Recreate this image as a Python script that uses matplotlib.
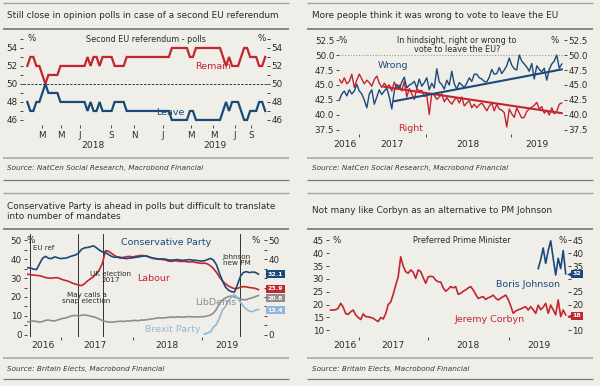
import matplotlib
matplotlib.use("Agg")
import matplotlib.pyplot as plt
from matplotlib.lines import Line2D
from matplotlib.transforms import blended_transform_factory as blend

# ---------------- DATA ----------------
# Panel 1: second EU referendum polls (observation index axis)
p1_remain = [52, 53, 53, 52, 52, 51, 50, 51, 51, 51, 51, 52,
             52, 52, 52, 52, 52, 52, 52, 52,
             53, 52, 53, 53, 52, 53, 53, 53, 53, 52, 52, 52, 52, 53,
             53, 53, 53, 53, 53, 53, 53, 53, 53, 53, 53, 53, 53, 53,
             54, 54, 54, 54, 54, 54,
             53, 53,
             54, 54, 54, 54, 54, 54, 54, 54, 54,
             53, 52, 53, 52, 52, 52, 53, 54, 54, 53, 53, 53, 52, 52, 53]
p1_leave = [48, 47, 47, 48, 48, 49, 50, 49, 49, 49, 49, 48,
            48, 48, 48, 48, 48, 48, 48, 48,
            47, 48, 47, 47, 48, 47, 47, 47, 47, 48, 48, 48, 48, 47,
            47, 47, 47, 47, 47, 47, 47, 47, 47, 47, 47, 47, 47, 47,
            46, 46, 46, 46, 46, 46,
            47, 47,
            46, 46, 46, 46, 46, 46, 46, 46, 46,
            47, 48, 47, 48, 48, 48, 47, 46, 46, 47, 47, 47, 48, 48, 47]
p1_month_pos = [4.9, 11.2, 17.5, 27.8, 35.5, 44.9, 54.2, 61.8, 69.0, 74.2]
p1_month_lbl = ['M', 'M', 'J', 'S', 'N', 'J', 'M', 'M', 'J', 'S']
p1_year_pos = [21.8, 62.2]
p1_year_lbl = ['2018', '2019']

# Panel 2: right or wrong to vote to leave
p2_wrong = [42.5, 43.5, 44.0, 43.2, 44.2, 43.5, 44.0, 45.1, 44.0, 43.5,
            42.5, 41.2, 43.5, 44.2, 41.8, 43.0, 44.2, 43.4, 44.0, 44.5,
            43.0, 41.0, 44.0, 45.1, 44.3, 45.5, 46.3, 44.5, 45.0, 45.2,
            45.6, 44.5, 46.0, 44.8, 45.4, 46.2, 44.2, 45.3, 44.5, 47.7,
            45.5, 45.1, 44.3, 45.8, 45.0, 47.3, 45.2, 44.3, 45.4, 45.0,
            44.6, 45.3, 46.2, 45.6, 46.8, 46.8, 46.2, 46.0, 45.6, 45.5,
            46.3, 47.6, 46.8, 46.9, 47.9, 46.9, 47.5, 48.2, 49.5, 48.3,
            47.7, 47.5, 50.0, 49.0, 48.5, 48.0, 47.3, 48.6, 46.0, 48.2,
            47.6, 47.2, 47.8, 45.8, 47.6, 48.5, 49.0, 50.0, 47.8, 48.5]
p2_right = [45.9, 45.3, 46.2, 45.2, 45.6, 46.8, 44.6, 45.8, 46.8, 46.0,
            45.2, 45.8, 45.4, 44.8, 45.9, 46.5, 45.3, 44.6, 45.3, 44.7,
            45.0, 44.0, 45.5, 44.3, 45.0, 44.0, 45.6, 43.0, 44.4, 43.5,
            42.6, 44.4, 44.0, 44.1, 43.1, 43.3, 40.1, 43.6, 43.3, 42.6,
            43.0, 43.5, 42.2, 42.9, 42.3, 41.8, 42.5, 42.9, 42.0, 43.0,
            41.5, 42.0, 42.4, 41.2, 41.8, 41.2, 41.7, 42.0, 41.4, 40.7,
            41.5, 42.0, 40.7, 41.8, 41.0, 40.8, 40.4, 38.0, 41.0, 40.2,
            39.6, 41.2, 40.3, 39.5, 39.6, 40.6, 41.0, 41.3, 41.6, 42.1,
            41.0, 41.4, 40.3, 40.8, 40.0, 41.2, 40.2, 40.6, 41.8, 42.0]
p2_wrong_trend_x = [22, 89]
p2_wrong_trend = [42.3, 47.6]
p2_right_trend_x = [18, 89]
p2_right_trend = [44.7, 40.3]
p2_yearsep_pos = [7.9, 34.7, 68.7]
p2_year_pos = [2.3, 21.1, 51.5, 79.1]
p2_year_lbl = ['2016', '2017', '2018', '2019']

# Panel 3: party polls
p3_con = [35.5, 35.3, 34.8, 34.5, 37.5, 40.5, 41.5, 40.5, 40.3, 41.2,
          40.8, 40.3, 40.5, 40.6, 41.3, 41.8, 42.2, 43.2, 45.2, 46.0,
          46.2, 46.6, 47.1, 46.0, 44.8, 43.8, 43.5, 42.5, 41.5, 41.0,
          41.2, 41.0, 40.5, 40.3, 40.6, 40.7, 41.0, 41.2, 41.5, 41.8,
          41.5, 40.8, 40.4, 40.3, 40.0, 40.2, 40.0, 39.6, 39.5, 39.6,
          39.8, 39.5, 39.4, 39.6, 39.8, 39.5, 39.4, 39.2, 39.0, 39.2,
          39.8, 40.4, 39.5, 37.0, 32.5, 28.5, 25.2, 23.6, 22.8, 22.6,
          26.5, 31.0, 33.0, 33.4, 32.9, 33.2, 33.0, 32.1]
p3_lab = [32.0, 31.8, 31.6, 31.4, 31.3, 30.8, 30.3, 30.0, 29.9, 30.2,
          30.2, 29.6, 29.0, 28.6, 28.1, 27.3, 26.8, 26.3, 26.0, 27.0,
          28.5, 29.6, 30.7, 32.5, 34.5, 38.0, 44.5, 44.2, 43.1, 42.0,
          41.0, 40.5, 41.0, 41.3, 41.5, 41.2, 41.5, 41.8, 42.0, 41.8,
          41.5, 41.0, 40.5, 40.2, 40.0, 39.8, 39.6, 39.0, 38.8, 39.2,
          39.0, 38.8, 38.9, 38.7, 38.5, 38.6, 38.3, 38.0, 37.8, 37.9,
          37.5, 36.5, 35.0, 33.0, 30.5, 28.5, 27.0, 25.8, 25.0, 24.4,
          24.5, 25.2, 25.5, 25.3, 25.0, 24.8, 24.5, 23.9]
p3_ld = [6.8, 7.0, 7.3, 7.0, 6.7, 7.0, 7.6, 7.8, 7.4, 7.3,
         7.8, 8.3, 8.7, 9.0, 9.6, 10.1, 10.2, 10.0, 10.3, 10.5,
         10.2, 9.8, 9.5, 9.0, 8.2, 7.5, 7.0, 6.8, 6.6, 6.8,
         7.0, 7.2, 7.0, 7.3, 7.2, 7.5, 7.6, 7.4, 7.8, 7.8,
         8.0, 8.3, 8.5, 8.8, 9.0, 8.8, 9.0, 9.2, 9.4, 9.2,
         9.5, 9.4, 9.3, 9.5, 9.6, 9.4, 9.5, 9.4, 9.5, 9.6,
         10.0, 10.4, 11.5, 13.5, 16.5, 18.5, 19.5, 20.2, 20.5, 20.0,
         19.5, 19.0, 18.5, 18.6, 19.2, 19.6, 20.2, 20.8]
p3_brexit_start = 59
p3_brexit = [0.3, 1.0, 1.5, 4.0, 5.5, 9.0, 13.0, 15.0, 18.0, 20.0,
             21.3, 19.5, 17.2, 15.0, 13.5, 12.5, 12.2, 13.0, 13.4]
p3_events_pos = [0.83, 16.9, 25.3, 70.8]
p3_yearsep_pos = [11.2, 35.3, 58.1]
p3_year_pos = [5.1, 22.5, 46.4, 66.4]
p3_year_lbl = ['2016', '2017', '2018', '2019']
p3_last_lbl = ['32.1', '23.9', '20.8', '13.4']

# Panel 4: preferred prime minister
p4_corbyn = [17.9, 17.9, 18.0, 18.6, 20.5, 19.0, 16.5, 16.2, 17.2, 17.9,
             16.0, 15.0, 14.2, 16.4, 15.3, 15.3, 15.0, 14.7, 14.0, 13.4,
             15.0, 14.4, 16.5, 20.0, 21.0, 24.0, 27.5, 30.8, 38.6, 35.0,
             32.8, 32.2, 33.5, 32.6, 30.2, 33.5, 32.8, 30.5, 28.3, 30.8,
             31.0, 30.8, 29.5, 28.9, 28.8, 26.5, 25.2, 26.0, 27.0, 26.5,
             27.0, 24.0, 24.4, 25.2, 25.7, 26.5, 27.0, 25.7, 24.0, 22.4,
             22.8, 23.1, 22.0, 22.7, 23.0, 23.7, 22.5, 21.8, 22.5, 23.1,
             23.7, 22.0, 19.5, 16.6, 17.5, 18.0, 18.3, 18.8, 19.2, 17.9,
             19.2, 18.0, 16.6, 19.8, 18.0, 19.0, 20.5, 16.6, 19.8, 18.0,
             16.0, 21.8, 15.3, 17.9, 16.0]
p4_johnson_start = 83
p4_johnson = [34.0, 37.5, 42.0, 36.0, 41.0, 44.8, 38.0, 31.5, 38.0, 34.0, 41.0, 32.0]
p4_yearsep_pos = [11.4, 38.8, 71.3]
p4_year_pos = [5.7, 25.0, 55.0, 83.4]
p4_year_lbl = ['2016', '2017', '2018', '2019']
p4_last_lbl = ['32', '18']

# ---------------- STYLE ----------------
W, H = 600, 386
BG = '#efeee9'
RED = '#c3262f'
BLUE = '#1b4a7a'
GRAY = '#8e8e8e'
LBLUE = '#93b7d8'
TXT = '#2a2a2a'
plt.rcParams['font.family'] = ['DejaVu Sans']

fig = plt.figure(figsize=(6, 3.86), dpi=100, facecolor=BG)


def FX(px):
    return px / W


def FY(py):
    return 1 - py / H


def hline(x0, x1, y, color, lw):
    fig.add_artist(Line2D([FX(x0), FX(x1)], [FY(y), FY(y)], transform=fig.transFigure,
                          color=color, lw=lw, solid_capstyle='butt'))


def ftext(x, y, s, **kw):
    kw.setdefault('color', TXT)
    kw.setdefault('va', 'center')
    fig.text(FX(x), FY(y), s, **kw)


def make_axes(x0, x1, y0, y1, xlim, ylim):
    ax = fig.add_axes([FX(x0), FY(y1), (x1 - x0) / W, (y1 - y0) / H])
    ax.set_facecolor('none')
    for s in ax.spines.values():
        s.set_visible(False)
    ax.set_xlim(*xlim)
    ax.set_ylim(*ylim)
    return ax


def style_y(ax, major, fmt, minor=None, hide_right=()):
    ax.set_yticks(major)
    ax.set_yticklabels([fmt.format(v) for v in major])
    if minor is not None:
        ax.set_yticks(minor, minor=True)
    ax.tick_params(axis='y', which='both', left=True, right=True, labelleft=True,
                   labelright=True, direction='out', length=2.2, width=0.6,
                   color=TXT, labelsize=6.3, labelcolor=TXT, pad=1.2)
    # right-hand labels hidden behind the end-value boxes
    for v, t in zip(major, ax.yaxis.get_major_ticks()):
        if v in hide_right:
            t.label2.set_visible(False)


def style_x(ax, pos, labels=None):
    ax.set_xticks(pos)
    if labels is None:
        ax.set_xticklabels([''] * len(pos))
    else:
        ax.set_xticklabels(labels)
    ax.tick_params(axis='x', which='both', bottom=True, top=False, direction='out',
                   length=2.2, width=0.6, color=TXT, labelsize=6.3, labelcolor=TXT, pad=1.8)


def year_labels(ax, pos, lbl, py):
    tr = blend(ax.transData, fig.transFigure)
    for p, l in zip(pos, lbl):
        ax.text(p, FY(py), l, transform=tr, ha='center', va='center', fontsize=6.6,
                color=TXT, clip_on=False)


def value_box(ax, y, s, color, px):
    tr = blend(fig.transFigure, ax.transData)
    ax.plot([FX(px - 8.5)], [y], marker='<', ms=3.4, color=color, transform=tr,
            clip_on=False, mec='none', zorder=9)
    ax.text(FX(px), y, s, transform=tr, ha='center', va='center', fontsize=4.5,
            color='white', fontweight='bold', clip_on=False, zorder=10,
            bbox=dict(boxstyle='square,pad=0.22', fc=color, ec='none'))


# ---------------- frames, titles, sources ----------------
TS = 6.4
for (x0, x1) in [(3, 289), (307, 593)]:
    hline(x0, x1, 3, '#a3a3a3', 1.0)
    hline(x0, x1, 28.5, '#6b6b6b', 1.1)
    hline(x0, x1, 157.5, '#a3a3a3', 1.1)
    hline(x0, x1, 180, '#7a7a7a', 0.9)
    hline(x0, x1, 192.5, '#a3a3a3', 1.0)
    hline(x0, x1, 228.5, '#6b6b6b', 1.1)
    hline(x0, x1, 358, '#a3a3a3', 1.1)
    hline(x0, x1, 379, '#7a7a7a', 0.9)

ftext(7, 16, 'Still close in opinion polls in case of a second EU referendum', fontsize=TS)
ftext(311.5, 16, 'More people think it was wrong to vote to leave the EU', fontsize=TS)
ftext(7, 211.5, 'Conservative Party is ahead in polls but difficult to translate\ninto number of mandates',
      fontsize=TS, linespacing=1.25)
ftext(311.5, 210, 'Not many like Corbyn as an alternative to PM Johnson', fontsize=TS)
SRC1 = 'Source: NatCen Social Research, Macrobond Financial'
SRC2 = 'Source: Britain Elects, Macrobond Financial'
ftext(7, 168, SRC1, fontsize=5.2, style='italic', color='#3a3a3a')
ftext(311.5, 168, SRC1, fontsize=5.2, style='italic', color='#3a3a3a')
ftext(7, 368.5, SRC2, fontsize=5.2, style='italic', color='#3a3a3a')
ftext(311.5, 368.5, SRC2, fontsize=5.2, style='italic', color='#3a3a3a')

# ---------------- Panel 1 ----------------
ax1 = make_axes(22.5, 267, 36, 125, (-1.6, 79.6), (45.44, 55.33))
x1 = list(range(len(p1_remain)))
ax1.axhline(50, color='#2b3a4f', lw=0.7, dashes=(2.5, 1.5))
ax1.plot(x1, p1_remain, color=RED, lw=1.6, solid_joinstyle='miter')
ax1.plot(x1, p1_leave, color=BLUE, lw=1.6, solid_joinstyle='miter')
style_y(ax1, [46, 48, 50, 52, 54], '{:g}', minor=[47, 49, 51, 53, 55])
style_x(ax1, p1_month_pos, p1_month_lbl)
year_labels(ax1, p1_year_pos, p1_year_lbl, 145.5)
ax1.text(1.45, 55, '%', ha='center', va='center', fontsize=6.3, color=TXT)
ax1.text(77.9, 55, '%', ha='center', va='center', fontsize=6.3, color=TXT)
ax1.text(39.3, 54.9, 'Second EU referendum - polls', ha='center', va='center', fontsize=5.8, color=TXT)
ax1.text(61.7, 51.9, 'Remain', ha='center', va='center', fontsize=6.8, color=RED)
ax1.text(47.4, 46.8, 'Leave', ha='center', va='center', fontsize=6.8, color=BLUE)

# ---------------- Panel 2 ----------------
ax2 = make_axes(339, 564, 36, 134, (-0.12, 89.9), (36.83, 53.17))
x2 = list(range(len(p2_wrong)))
ax2.axhline(50, color='#9a9a9a', lw=0.8, ls=(0, (1, 1.5)))
ax2.plot(x2, p2_right, color=RED, lw=1.0)
ax2.plot(x2, p2_wrong, color=BLUE, lw=1.0)
ax2.plot(p2_right_trend_x, p2_right_trend, color=RED, lw=1.5)
ax2.plot(p2_wrong_trend_x, p2_wrong_trend, color=BLUE, lw=1.5)
style_y(ax2, [37.5, 40, 42.5, 45, 47.5, 50, 52.5], '{:.1f}')
style_x(ax2, p2_yearsep_pos)
year_labels(ax2, p2_year_pos, p2_year_lbl, 144.5)
ax2.text(1.5, 52.5, '%', ha='center', va='center', fontsize=6.3, color=TXT)
ax2.text(86.3, 52.5, '%', ha='center', va='center', fontsize=6.3, color=TXT)
ax2.text(47.1, 51.67, 'In hindsight, right or wrong to\nvote to leave the EU?', ha='center',
         va='center', fontsize=5.8, color=TXT, linespacing=1.05)
ax2.text(21.5, 48.33, 'Wrong', ha='center', va='center', fontsize=6.8, color=BLUE)
ax2.text(28.7, 37.8, 'Right', ha='center', va='center', fontsize=6.8, color=RED)

# ---------------- Panel 3 ----------------
ax3 = make_axes(26.7, 263.5, 233.7, 337, (-0.27, 78.67), (-1.2, 53.5))
x3 = list(range(len(p3_con)))
for p in p3_events_pos:
    ax3.axvline(p, color='#333333', lw=0.7)
ax3.plot(x3, p3_ld, color=GRAY, lw=1.2)
ax3.plot(list(range(p3_brexit_start, p3_brexit_start + len(p3_brexit))), p3_brexit, color=LBLUE, lw=1.2)
ax3.plot(x3, p3_lab, color=RED, lw=1.2)
ax3.plot(x3, p3_con, color=BLUE, lw=1.2)
style_y(ax3, [0, 10, 20, 30, 40, 50], '{:g}', minor=[5, 15, 25, 35, 45], hide_right=(10, 20, 30))
style_x(ax3, p3_yearsep_pos)
year_labels(ax3, p3_year_pos, p3_year_lbl, 345)
ax3.text(1.0, 50, '%', ha='center', va='center', fontsize=6.3, color=TXT)
ax3.text(76.0, 50, '%', ha='center', va='center', fontsize=6.3, color=TXT)
ax3.text(46.2, 48.6, 'Conservative Party', ha='center', va='center', fontsize=6.8, color=BLUE)
ax3.text(42.0, 30.0, 'Labour', ha='center', va='center', fontsize=6.8, color=RED)
ax3.text(62.8, 17.2, 'LibDems', ha='center', va='center', fontsize=6.8, color=GRAY)
ax3.text(48.5, 3.0, 'Brexit Party', ha='center', va='center', fontsize=6.8, color=LBLUE)
ax3.text(1.8, 45.9, 'EU ref', ha='left', va='center', fontsize=5.0, color=TXT)
ax3.text(27.8, 30.5, 'UK election\n2017', ha='center', va='center', fontsize=5.2, color=TXT, linespacing=1.0)
ax3.text(19.7, 19.4, 'May calls a\nsnap election', ha='center', va='center', fontsize=5.2, color=TXT, linespacing=1.0)
ax3.text(69.8, 39.8, 'Johnson\nnew PM', ha='center', va='center', fontsize=5.2, color=TXT, linespacing=1.0)
box_y3 = [32.1, 24.4, 19.4, 12.9]
for yv, s, c in zip(box_y3, p3_last_lbl, [BLUE, RED, GRAY, LBLUE]):
    value_box(ax3, yv, s, c, 275.5)

# ---------------- Panel 4 ----------------
ax4 = make_axes(328.5, 567.5, 238, 336.5, (-0.88, 94.72), (7.6, 45.9))
x4 = list(range(len(p4_corbyn)))
ax4.plot(x4, p4_corbyn, color=RED, lw=1.2)
ax4.plot(list(range(p4_johnson_start, p4_johnson_start + len(p4_johnson))), p4_johnson, color=BLUE, lw=1.2)
style_y(ax4, [10, 15, 20, 25, 30, 35, 40, 45], '{:g}', hide_right=(15, 30))
style_x(ax4, p4_yearsep_pos)
year_labels(ax4, p4_year_pos, p4_year_lbl, 345)
ax4.text(2.2, 45, '%', ha='center', va='center', fontsize=6.3, color=TXT)
ax4.text(92.9, 45, '%', ha='center', va='center', fontsize=6.3, color=TXT)
ax4.text(52.4, 44.8, 'Preferred Prime Minister', ha='center', va='center', fontsize=5.8, color=TXT)
ax4.text(78.9, 28.0, 'Boris Johnson', ha='center', va='center', fontsize=6.8, color=BLUE)
ax4.text(63.7, 14.1, 'Jeremy Corbyn', ha='center', va='center', fontsize=6.8, color=RED)
box_y4 = [p4_johnson[-1], 15.7]
for yv, s, c in zip(box_y4, p4_last_lbl, [BLUE, RED]):
    value_box(ax4, yv, s, c, 577)

fig.savefig('out.png', dpi=100, facecolor=BG)
